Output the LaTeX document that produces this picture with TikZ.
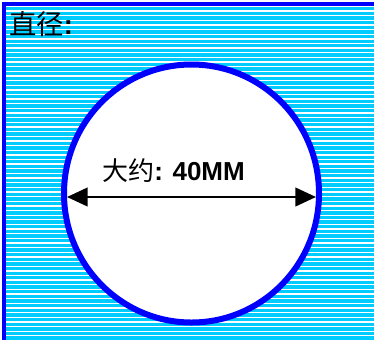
\documentclass[tikz,border=0pt]{standalone}
\usepackage{fontspec}
\setmainfont{Liberation Sans}
\newfontfamily\cjk{Noto Sans CJK SC}
\usetikzlibrary{arrows.meta,shapes.geometric}
\definecolor{stripecyan}{RGB}{0,204,255}
\definecolor{rimblue}{RGB}{0,0,255}
\tikzset{
  px/.style={x=0.75pt,y=-0.75pt},
  rim/.style={draw=rimblue,line width=4.5pt,fill=white,ellipse,minimum width=191.25pt,minimum height=193.5pt,inner sep=0pt},
  border/.style={draw=rimblue,line width=3pt},
  stripe/.style={draw=white,line width=1pt},
  dim/.style={draw=black,line width=1.6pt,{Triangle[length=15.5pt,width=14pt]}-{Triangle[length=15.5pt,width=14pt]}},
  lbl/.style={inner sep=0pt,anchor=west,text=black}
}
\begin{document}
\begin{tikzpicture}[px]
\useasboundingbox (0,0) rectangle (374,340);
\fill[white] (0,0) rectangle (374,340);
\fill[stripecyan] (6,6) rectangle (374,340);
\foreach \k in {0,...,72}{
  \draw[stripe] (6,{6.36+4.64*\k}) -- (374,{6.36+4.64*\k});
}
\draw[border] (3.7,1.7) -- (3.7,340);
\draw[border] (1.7,3.7) -- (374,3.7);
\node[rim] (circ) at (191.5,193.5) {};
\node[lbl,font=\fontsize{20.5pt}{22pt}\selectfont] (title) at (9,24) {{\cjk 直径}\textbf{:}};
\node[lbl,font=\fontsize{19.5pt}{22pt}\selectfont] (size) at (102,171) {{\cjk 大约}\textbf{: 40MM}};
\coordinate (L) at (67,197);
\coordinate (R) at (316,197);
\draw[dim] (L) -- (R);
\end{tikzpicture}
\end{document}
